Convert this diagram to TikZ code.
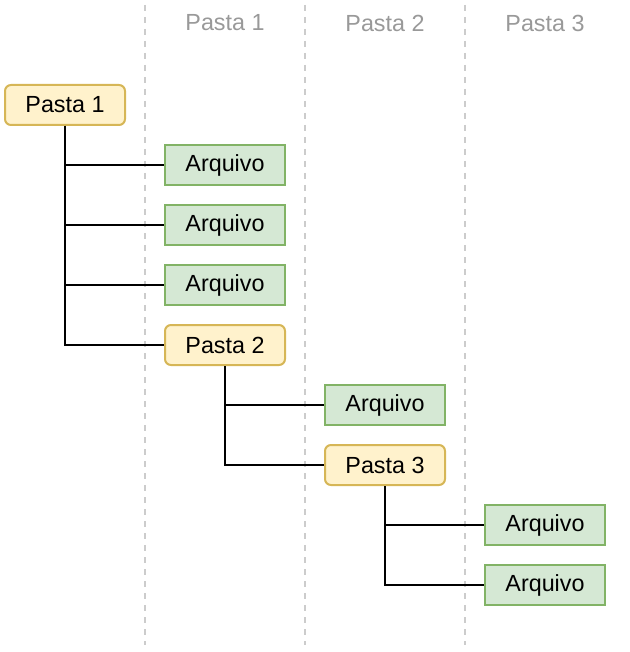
\documentclass[tikz,border=0pt]{standalone}
\usepackage{fontspec}
\setmainfont{Liberation Sans}
\usetikzlibrary{positioning}

\definecolor{pastafill}{HTML}{FFF2CC}
\definecolor{pastadraw}{HTML}{D6B656}
\definecolor{arqfill}{HTML}{D5E8D4}
\definecolor{arqdraw}{HTML}{82B366}
\definecolor{guia}{HTML}{CCCCCC}
\definecolor{titulo}{HTML}{999999}

\begin{document}
\begin{tikzpicture}[x=0.75pt,y=-0.75pt,
  caixa/.style={minimum width=90pt,minimum height=30pt,inner sep=0pt,line width=1.5pt,
    font=\fontsize{17.5}{20}\selectfont},
  pasta/.style={caixa,draw=pastadraw,fill=pastafill,rounded corners=4.5pt},
  arquivo/.style={caixa,draw=arqdraw,fill=arqfill},
  cabeca/.style={text=titulo,font=\fontsize{17.5}{20}\selectfont},
  guide/.style={draw=guia,line width=1.5pt,dash pattern=on 4.5pt off 4.5pt},
  ramo/.style={draw=black,line width=1.5pt}]

\useasboundingbox (0,0) rectangle (630,652);

\draw[guide] (145,5) -- (145,645);
\draw[guide] (305,5) -- (305,645);
\draw[guide] (465,5) -- (465,645);

\node[cabeca] (h1) at (225,23) {Pasta 1};
\node[cabeca] (h2) at (385,23) {Pasta 2};
\node[cabeca] (h3) at (545,23) {Pasta 3};

\node[pasta] (p1) at (65,105) {Pasta 1};
\node[arquivo] (a1) at (225,165) {Arquivo};
\node[arquivo] (a2) at (225,225) {Arquivo};
\node[arquivo] (a3) at (225,285) {Arquivo};
\node[pasta] (p2) at (225,345) {Pasta 2};
\node[arquivo] (a4) at (385,405) {Arquivo};
\node[pasta] (p3) at (385,465) {Pasta 3};
\node[arquivo] (a5) at (545,525) {Arquivo};
\node[arquivo] (a6) at (545,585) {Arquivo};

\draw[ramo] (p1.south) |- (a1.west);
\draw[ramo] (p1.south) |- (a2.west);
\draw[ramo] (p1.south) |- (a3.west);
\draw[ramo] (p1.south) |- (p2.west);
\draw[ramo] (p2.south) |- (a4.west);
\draw[ramo] (p2.south) |- (p3.west);
\draw[ramo] (p3.south) |- (a5.west);
\draw[ramo] (p3.south) |- (a6.west);

\end{tikzpicture}
\end{document}
